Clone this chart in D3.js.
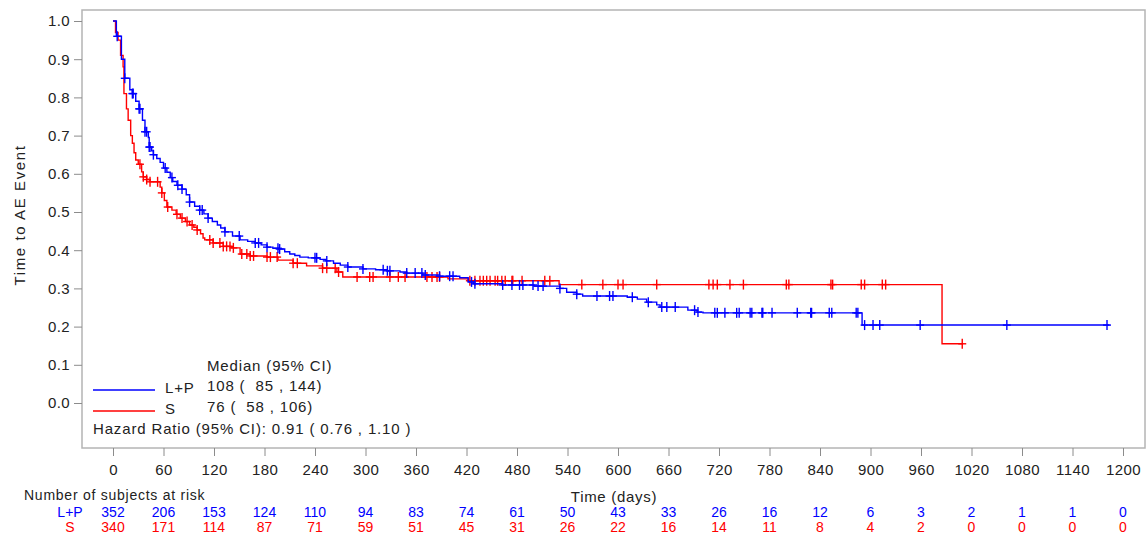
<!DOCTYPE html>
<html>
<head>
<meta charset="utf-8">
<script src="https://cdn.jsdelivr.net/npm/d3@7"></script>
<style>
  html, body { margin: 0; padding: 0; background: #fff; }
  svg { display: block; font-family: "Liberation Sans", Arial, sans-serif; }
</style>
</head>
<body>
<svg id="chart" width="1147" height="536"></svg>
<script>
// ---------- data ----------
const xTicks = [0,60,120,180,240,300,360,420,480,540,600,660,720,780,840,900,960,1020,1080,1140,1200];
const yTicks = [0,0.1,0.2,0.3,0.4,0.5,0.6,0.7,0.8,0.9,1.0];
const groups = ["L+P", "S"];

// step curves: time of each step, survival after that step
const lpTimes = [0,4,10,14,20,23,27,31,35,38,42,43,46,48,52,56,60,64,68,71,76,82,87,91,97,103,108,113,118,124,128,133,142,151,160,169,176,183,190,197,204,210,216,222,232,246,253,262,270,279,297,312,326,341,349,368,388,412,422,428,463,500,531,539,551,558,611,623,634,646,650,683,694,701,890,1184];
const lpSurv  = [1.0,0.96,0.90,0.85,0.82,0.81,0.79,0.77,0.74,0.71,0.695,0.67,0.66,0.65,0.64,0.63,0.615,0.604,0.59,0.58,0.57,0.56,0.545,0.526,0.515,0.505,0.495,0.484,0.475,0.466,0.458,0.448,0.437,0.427,0.423,0.419,0.414,0.408,0.405,0.403,0.396,0.39,0.386,0.382,0.38,0.376,0.372,0.366,0.361,0.356,0.351,0.349,0.346,0.343,0.34,0.335,0.332,0.328,0.317,0.312,0.309,0.306,0.30,0.29,0.285,0.28,0.277,0.272,0.264,0.257,0.251,0.243,0.238,0.236,0.204,0.204];
const sTimes  = [0,3,6,9,12,13,16,18,21,23,25,27,30,34,36,40,44,56,58,61,64,70,75,80,86,91,96,100,104,107,109,119,131,141,151,163,183,196,214,230,249,266,273,398,422,530,985,1010];
const sSurv   = [1.0,0.97,0.95,0.91,0.88,0.81,0.77,0.74,0.70,0.68,0.655,0.636,0.625,0.605,0.592,0.585,0.579,0.565,0.55,0.53,0.513,0.505,0.494,0.484,0.475,0.466,0.46,0.453,0.443,0.432,0.427,0.419,0.41,0.406,0.39,0.385,0.382,0.374,0.366,0.359,0.353,0.343,0.33,0.325,0.32,0.31,0.155,0.155];

// censoring times
const lpCens = [5,14,23,24,31,32,38,40,43,44,48,62,70,77,82,91,103,106,113,133,150,169,173,183,196,198,240,242,254,279,297,321,326,329,349,359,367,371,388,400,404,426,430,463,474,483,487,499,505,511,531,551,575,590,594,617,636,652,658,668,691,695,715,718,727,741,744,757,759,771,772,783,813,829,830,851,854,883,885,893,903,911,959,1062,1181];
const sCens  = [32,36,40,44,53,58,65,76,82,88,94,100,115,119,127,131,135,139,143,153,159,163,167,183,187,195,214,219,249,254,264,268,290,305,309,329,339,347,373,379,385,388,424,430,436,440,444,448,454,457,462,466,474,475,486,513,519,557,582,600,606,646,708,713,718,733,749,800,803,853,855,889,893,914,918,1009];

// number at risk at each x tick
const lpRisk = [352,206,153,124,110,94,83,74,61,50,43,33,26,16,12,6,3,2,1,1,0];
const sRisk  = [340,171,114,87,71,59,51,45,31,26,22,16,14,11,8,4,2,0,0,0,0];

const legendMedian = ["108 (  85 , 144)", "76 (  58 , 106)"];
const hrText = "Hazard Ratio (95% CI): 0.91 ( 0.76 , 1.10 )";

// ---------- drawing ----------
const blue = "#0000ff", red = "#ff0000";
const svg = d3.select("#chart");
const x = d3.scaleLinear().domain([0, 1200]).range([113, 1123]);
const y = d3.scaleLinear().domain([0, 1]).range([403, 21]);

// frame
svg.append("rect").attr("x", 82).attr("y", 10).attr("width", 1063).attr("height", 438)
  .attr("fill", "none").attr("stroke", "#b4b4b4").attr("stroke-width", 1.5);

// x axis
const gx = svg.append("g").attr("transform", "translate(0,448)")
  .call(d3.axisBottom(x).tickValues(xTicks).tickSize(8).tickPadding(8).tickFormat(d3.format("d")));
gx.select(".domain").remove();
gx.selectAll(".tick line").attr("stroke", "#8c8c8c");
gx.selectAll(".tick text").attr("font-size", 15).attr("fill", "#222").attr("font-family", "Liberation Sans, Arial, sans-serif")
  .attr("letter-spacing", 0.4);

// y axis
const gy = svg.append("g").attr("transform", "translate(82,0)")
  .call(d3.axisLeft(y).tickValues(yTicks).tickSize(8).tickPadding(4).tickFormat(d3.format(".1f")));
gy.select(".domain").remove();
gy.selectAll(".tick line").attr("stroke", "#8c8c8c");
gy.selectAll(".tick text").attr("font-size", 15).attr("fill", "#222").attr("font-family", "Liberation Sans, Arial, sans-serif")
  .attr("letter-spacing", 0.4);

// y title
svg.append("text").attr("transform", "translate(25,215) rotate(-90)")
  .attr("text-anchor", "middle").attr("font-size", 15).attr("fill", "#222")
  .attr("letter-spacing", 1.6)
  .text("Time to AE Event");

// curves
function stepLookup(times, surv, t) {
  const i = d3.bisectRight(times, t) - 1;
  return surv[Math.max(0, i)];
}
const line = d3.line().x(d => x(d[0])).y(d => y(d[1])).curve(d3.curveStepAfter);
const series = [
  { times: lpTimes, surv: lpSurv, cens: lpCens, color: blue },
  { times: sTimes, surv: sSurv, cens: sCens, color: red }
];
series.slice().reverse().forEach(s => {
  const pts = s.times.map((t, i) => [t, s.surv[i]]);
  svg.append("path").attr("d", line(pts)).attr("fill", "none")
    .attr("stroke", s.color).attr("stroke-width", 1.4);
  const g = svg.append("g").attr("stroke", s.color).attr("stroke-width", 1.4);
  s.cens.forEach(t => {
    const cx = x(t), cy = y(stepLookup(s.times, s.surv, t));
    g.append("line").attr("x1", cx).attr("x2", cx).attr("y1", cy - 5).attr("y2", cy + 5);
    g.append("line").attr("x1", cx - 4).attr("x2", cx + 4).attr("y1", cy).attr("y2", cy);
  });
});

// legend
const ls = 0.85;
svg.append("text").attr("x", 207).attr("y", 371).attr("font-size", 15).attr("fill", "#222")
  .attr("letter-spacing", ls).text("Median (95% CI)");
const legY = [391, 412];
groups.forEach((gname, i) => {
  const col = i === 0 ? blue : red;
  svg.append("line").attr("x1", 93).attr("x2", 155).attr("y1", legY[i] - 1).attr("y2", legY[i] - 1)
    .attr("stroke", col).attr("stroke-width", 1.4);
  svg.append("text").attr("x", 165).attr("y", legY[i] + 2).attr("font-size", 15).attr("fill", "#222")
    .attr("letter-spacing", ls).text(gname);
  svg.append("text").attr("x", 207).attr("y", legY[i]).attr("font-size", 15).attr("fill", "#222")
    .attr("letter-spacing", ls).style("white-space", "pre").text(legendMedian[i]);
});
svg.append("text").attr("x", 93).attr("y", 434).attr("font-size", 15).attr("fill", "#222")
  .attr("letter-spacing", ls).style("white-space", "pre").text(hrText);

// at-risk table
svg.append("text").attr("x", 614).attr("y", 502).attr("text-anchor", "middle")
  .attr("font-size", 15).attr("fill", "#222").attr("letter-spacing", 0.7).text("Time (days)");
svg.append("text").attr("x", 24).attr("y", 500).attr("font-size", 14).attr("fill", "#222")
  .attr("letter-spacing", 0.75).text("Number of subjects at risk");
const riskRows = [lpRisk, sRisk];
const rowY = [517, 532];
riskRows.forEach((row, i) => {
  const col = i === 0 ? blue : red;
  svg.append("text").attr("x", 70).attr("y", rowY[i]).attr("text-anchor", "middle")
    .attr("font-size", 14).attr("fill", col).text(groups[i]);
  svg.append("g").selectAll("text").data(row).join("text")
    .attr("x", (d, j) => x(xTicks[j])).attr("y", rowY[i]).attr("text-anchor", "middle")
    .attr("font-size", 14).attr("fill", col).text(d => d);
});
</script>
</body>
</html>
